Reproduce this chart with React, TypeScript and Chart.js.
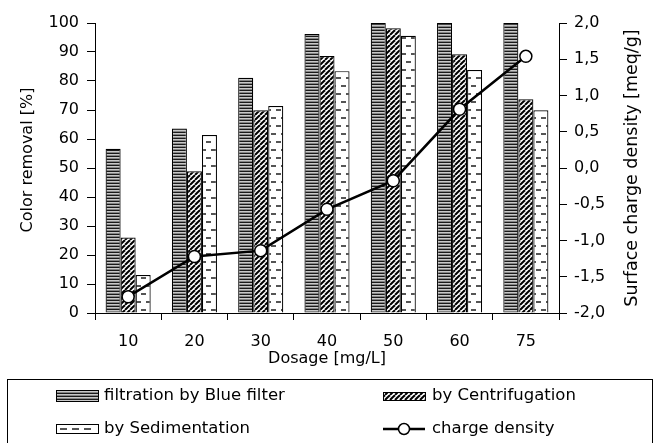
import React, { useEffect, useRef } from 'react';
import { Chart, registerables } from 'chart.js';

Chart.register(...registerables);

const categories = ['10', '20', '30', '40', '50', '60', '75'];
const filtration = [56.6, 63.6, 81.1, 96.2, 100, 100, 100];
const centrifugation = [26.0, 48.9, 69.9, 88.6, 98.2, 89.2, 73.7];
const sedimentation = [13.1, 61.4, 71.4, 83.4, 95.6, 83.8, 69.9];
const chargeDensity = [-1.775, -1.22, -1.14, -0.57, -0.175, 0.81, 1.54];

const seriesNames = ['filtration by Blue filter', 'by Centrifugation', 'by Sedimentation', 'charge density'];
const leftTitle = 'Color removal [%]';
const rightTitle = 'Surface charge density [meq/g]';
const xTitle = 'Dosage [mg/L]';

const FONT = '"DejaVu Sans", sans-serif';

function makePattern(w: number, h: number, draw: (g: CanvasRenderingContext2D) => void): CanvasPattern {
  const c = document.createElement('canvas');
  c.width = w;
  c.height = h;
  const g = c.getContext('2d') as CanvasRenderingContext2D;
  draw(g);
  return g.createPattern(c, 'repeat') as CanvasPattern;
}

export default function App() {
  const ref = useRef<HTMLCanvasElement | null>(null);

  useEffect(() => {
    const canvas = ref.current;
    if (!canvas) return;

    const pFiltration = makePattern(4, 3, (g) => {
      g.fillStyle = '#1a1a1a';
      g.fillRect(0, 0, 4, 1);
      g.fillStyle = '#c8c8c8';
      g.fillRect(0, 1, 4, 1);
      g.fillStyle = '#858585';
      g.fillRect(0, 2, 4, 1);
    });
    const pCentri = makePattern(5, 5, (g) => {
      g.fillStyle = '#fff';
      g.fillRect(0, 0, 5, 5);
      g.strokeStyle = '#000';
      g.lineWidth = 2;
      for (const x0 of [-5, 0, 5]) {
        g.beginPath();
        g.moveTo(x0, 5);
        g.lineTo(x0 + 5, 0);
        g.stroke();
      }
    });
    const pSedi = makePattern(10, 16, (g) => {
      g.fillStyle = '#fff';
      g.fillRect(0, 0, 10, 16);
      g.fillStyle = '#555';
      g.fillRect(1, 5, 5, 2);
      g.fillRect(6, 13, 4, 2);
      g.fillRect(0, 13, 1, 2);
    });

    const customPlugin = {
      id: 'customDraw',
      afterDraw(chart: any) {
        const ctx: CanvasRenderingContext2D = chart.ctx;
        const area = chart.chartArea;
        ctx.save();
        ctx.fillStyle = '#000';
        ctx.textBaseline = 'middle';
        ctx.textAlign = 'center';
        // axis titles
        ctx.font = '16px ' + FONT;
        ctx.save();
        ctx.translate(28, 160);
        ctx.rotate(-Math.PI / 2);
        ctx.fillText(leftTitle, 0, 0);
        ctx.restore();
        ctx.font = '17.5px ' + FONT;
        ctx.save();
        ctx.translate(632, (area.top + area.bottom) / 2);
        ctx.rotate(-Math.PI / 2);
        ctx.fillText(rightTitle, 0, 0);
        ctx.restore();

        // legend box
        ctx.strokeStyle = '#000';
        ctx.lineWidth = 1;
        ctx.strokeRect(7.5, 379.5, 645, 80);

        // swatches
        const sx = 56, sw = 42;
        // filtration
        ctx.fillStyle = pFiltration;
        ctx.fillRect(sx, 390, sw, 12);
        ctx.strokeRect(sx + 0.5, 390.5, sw, 11);
        // sedimentation
        ctx.fillStyle = '#fff';
        ctx.fillRect(sx, 424, sw, 9);
        ctx.strokeRect(sx + 0.5, 424.5, sw, 9);
        ctx.fillStyle = '#555';
        for (const dx of [4, 16, 28]) ctx.fillRect(sx + dx, 428, 7, 2);
        // centrifugation
        const cx = 383;
        ctx.fillStyle = pCentri;
        ctx.fillRect(cx, 392, sw, 8);
        ctx.strokeRect(cx + 0.5, 392.5, sw, 8);
        // charge density
        ctx.lineWidth = 2.5;
        ctx.beginPath();
        ctx.moveTo(cx, 429);
        ctx.lineTo(cx + sw, 429);
        ctx.stroke();
        ctx.lineWidth = 1.5;
        ctx.fillStyle = '#fff';
        ctx.beginPath();
        ctx.arc(cx + 21, 429, 5.5, 0, Math.PI * 2);
        ctx.fill();
        ctx.stroke();

        // legend text
        ctx.fillStyle = '#000';
        ctx.textAlign = 'left';
        ctx.font = '16.5px ' + FONT;
        ctx.fillText(seriesNames[0], 104, 396);
        ctx.fillText(seriesNames[2], 104, 429);
        ctx.fillText(seriesNames[1], 432, 396);
        ctx.fillText(seriesNames[3], 432, 429);
        ctx.restore();
      },
    };

    const chart = new Chart(canvas, {
      type: 'bar',
      data: {
        labels: categories,
        datasets: [
          {
            type: 'line',
            label: seriesNames[3],
            data: chargeDensity,
            yAxisID: 'y1',
            borderColor: '#000',
            borderWidth: 2.5,
            pointRadius: 6,
            pointBackgroundColor: '#fff',
            pointBorderColor: '#000',
            pointBorderWidth: 1.5,
            tension: 0,
            order: 0,
          } as any,
          {
            label: seriesNames[0],
            data: filtration,
            backgroundColor: pFiltration,
            borderColor: '#000',
            borderWidth: 1.2,
            yAxisID: 'y',
            order: 1,
          },
          {
            label: seriesNames[1],
            data: centrifugation,
            backgroundColor: pCentri,
            borderColor: '#000',
            borderWidth: 1.2,
            yAxisID: 'y',
            order: 1,
          },
          {
            label: seriesNames[2],
            data: sedimentation,
            backgroundColor: pSedi,
            borderColor: '#000',
            borderWidth: 1.2,
            yAxisID: 'y',
            order: 1,
          },
        ],
      },
      options: {
        responsive: false,
        animation: false,
        devicePixelRatio: 1,
        layout: { padding: { top: 23, left: 0, right: 0, bottom: 0 } },
        datasets: {
          bar: { categoryPercentage: 0.68, barPercentage: 1.0 },
        },
        plugins: {
          legend: { display: false },
          tooltip: { enabled: false },
        },
        scales: {
          x: {
            type: 'category',
            offset: true,
            grid: { drawOnChartArea: false, drawTicks: true, tickLength: 7, color: '#000', offset: true },
            border: { display: true, color: '#000', width: 1 },
            ticks: { color: '#000', font: { family: FONT, size: 16 }, padding: 12, maxRotation: 0 },
            title: {
              display: true,
              text: xTitle,
              color: '#000',
              font: { family: FONT, size: 16 },
              padding: { top: 0, bottom: 75 },
            },
            afterFit: (s: any) => {
              s.height = 130;
            },
          },
          y: {
            position: 'left',
            min: 0,
            max: 100,
            grid: { drawOnChartArea: false, drawTicks: true, tickLength: 8, color: '#000' },
            border: { display: true, color: '#000', width: 1 },
            ticks: { stepSize: 10, color: '#000', font: { family: FONT, size: 16 }, padding: 8 },
            afterFit: (s: any) => {
              s.width = 95;
            },
          },
          y1: {
            position: 'right',
            min: -2,
            max: 2,
            grid: { drawOnChartArea: false, drawTicks: true, tickLength: 8, color: '#000' },
            border: { display: true, color: '#000', width: 1 },
            ticks: {
              stepSize: 0.5,
              color: '#000',
              font: { family: FONT, size: 16 },
              padding: 7,
              callback: (v: any) => Number(v).toFixed(1).replace('.', ','),
            },
            afterFit: (s: any) => {
              s.width = 99;
            },
          },
        },
      },
      plugins: [customPlugin],
    });

    return () => chart.destroy();
  }, []);

  return (
    <div style={{ position: 'absolute', left: 0, top: 0, width: 658, height: 443, background: '#fff' }}>
      <canvas ref={ref} width={658} height={443} style={{ display: 'block' }} />
    </div>
  );
}
